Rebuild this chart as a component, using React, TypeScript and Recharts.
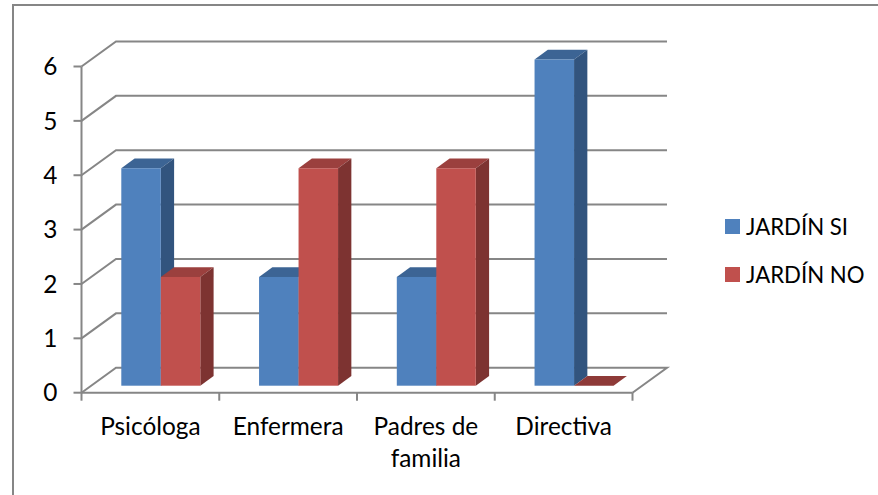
import React from 'react'
import { Bar, BarChart, CartesianGrid, Legend, XAxis, YAxis } from 'recharts'

const categories = ['Psicóloga', 'Enfermera', 'Padres de familia', 'Directiva']
const categoryLines = [['Psicóloga'], ['Enfermera'], ['Padres de', 'familia'], ['Directiva']]
const jardinSi = [4, 2, 2, 6]
const jardinNo = [2, 4, 4, 0]
const yTicks = [0, 1, 2, 3, 4, 5, 6]

const data = categories.map((name, i) => ({ name, si: jardinSi[i], no: jardinNo[i] }))

const GRAY = '#868686'
const FONT = 'Lato, sans-serif'
const FONT_SIZE = 24.4
const LEGEND_FONT_SIZE = 22.2

// fake 3D: how far the back wall and the bars are pushed from the axis plane
const WALL_DX = 34.5
const WALL_DY = -25
const BAR_SHIFT_X = 10.8
const BAR_SHIFT_Y = -7
const DEPTH_X = 13.3
const DEPTH_Y = -9.8

const renderGridLine = (props: any) => {
  const { x1, x2, y1, index } = props
  const isFloor = Math.abs(y1 - 392.7) < 1
  const bx1 = x1 + WALL_DX
  const bx2 = x2 + WALL_DX
  const by = y1 + WALL_DY
  const path = isFloor
    ? `M${x1},${y1}L${bx1},${by}L${bx2},${by}L${x2},${y1}`
    : `M${x1},${y1}L${bx1},${by}L${bx2},${by}`
  return <path key={`grid-${index}`} d={path} fill="none" stroke={GRAY} strokeWidth={2} />
}

const bar3d = (topColor: string, sideColor: string, flatColor: string) => (props: any) => {
  const { x, y, width, height, fill } = props
  const l = x + BAR_SHIFT_X
  const r = l + width
  const t = y + BAR_SHIFT_Y
  const b = t + height
  if (height < 0.5) {
    return (
      <polygon
        points={`${l},${b} ${r},${b} ${r + DEPTH_X},${b + DEPTH_Y} ${l + DEPTH_X},${b + DEPTH_Y}`}
        fill={flatColor}
      />
    )
  }
  return (
    <g>
      <polygon
        points={`${l},${t} ${r},${t} ${r + DEPTH_X},${t + DEPTH_Y} ${l + DEPTH_X},${t + DEPTH_Y}`}
        fill={topColor}
      />
      <polygon
        points={`${r},${t} ${r + DEPTH_X},${t + DEPTH_Y} ${r + DEPTH_X},${b + DEPTH_Y} ${r},${b}`}
        fill={sideColor}
      />
      <rect x={l} y={t} width={width} height={height} fill={fill} />
    </g>
  )
}

// tick marks sit on the category boundaries, y already includes the default 8px tick offset
const renderXTick = (props: any) => {
  const { x, y, width, visibleTicksCount, index } = props
  const step = width / visibleTicksCount
  const left = x - step / 2
  const right = x + step / 2
  return (
    <g>
      <line x1={left} y1={y - 8} x2={left} y2={y} stroke={GRAY} strokeWidth={2} />
      {index === visibleTicksCount - 1 && (
        <line x1={right} y1={y - 8} x2={right} y2={y} stroke={GRAY} strokeWidth={2} />
      )}
      <text x={x} y={y + 34} textAnchor="middle" fill="#000" fontFamily={FONT} fontSize={FONT_SIZE}>
        {categoryLines[index].map((line, i) => (
          <tspan key={line} x={x} dy={i === 0 ? 0 : 32}>
            {line}
          </tspan>
        ))}
      </text>
    </g>
  )
}

const renderLegend = (props: any) => (
  <div>
    {props.payload.map((item: any) => (
      <div key={item.value} style={{ display: 'flex', alignItems: 'center', height: 48 }}>
        <div style={{ width: 15, height: 15, background: item.color, marginRight: 6 }} />
        <span style={{ fontFamily: FONT, fontSize: LEGEND_FONT_SIZE, color: '#000', whiteSpace: 'nowrap' }}>
          {item.value}
        </span>
      </div>
    ))}
  </div>
)

export default function App() {
  return (
    <div style={{ position: 'absolute', left: 0, top: 0, width: 878, height: 495, overflow: 'hidden', background: '#fff' }}>
      <div
        style={{
          position: 'absolute',
          left: 12,
          top: 4,
          width: 866,
          height: 491,
          boxSizing: 'border-box',
          borderLeft: `2px solid ${GRAY}`,
          borderTop: `2px solid ${GRAY}`,
        }}
      />
      <BarChart
        width={878}
        height={495}
        data={data}
        margin={{ top: 66.5, right: 245.5, bottom: 42.3, left: 1.5 }}
        barSize={39.5}
        barGap={0}
      >
        <CartesianGrid vertical={false} horizontal={renderGridLine} />
        <XAxis
          dataKey="name"
          height={60}
          interval={0}
          axisLine={{ stroke: GRAY, strokeWidth: 2 }}
          tickLine={false}
          tick={renderXTick}
        />
        <YAxis
          width={80}
          domain={[0, 6]}
          ticks={yTicks}
          interval={0}
          axisLine={{ stroke: GRAY, strokeWidth: 2 }}
          tickLine={{ stroke: GRAY, strokeWidth: 2 }}
          tickSize={8}
          tickMargin={16}
          tick={{ fill: '#000', fontFamily: FONT, fontSize: FONT_SIZE }}
        />
        <Legend
          layout="vertical"
          align="center"
          verticalAlign="middle"
          itemSorter={null}
          content={renderLegend}
          wrapperStyle={{ position: 'absolute', left: 725, top: 202, width: 150, bottom: 'auto', right: 'auto' }}
        />
        <Bar
          dataKey="si"
          name="JARDÍN SI"
          fill="#4F81BD"
          isAnimationActive={false}
          shape={bar3d('#3C6494', '#32547E', '#3C6494')}
        />
        <Bar
          dataKey="no"
          name="JARDÍN NO"
          fill="#C0504D"
          isAnimationActive={false}
          shape={bar3d('#9B403E', '#7D3331', '#8E3A38')}
        />
      </BarChart>
    </div>
  )
}
